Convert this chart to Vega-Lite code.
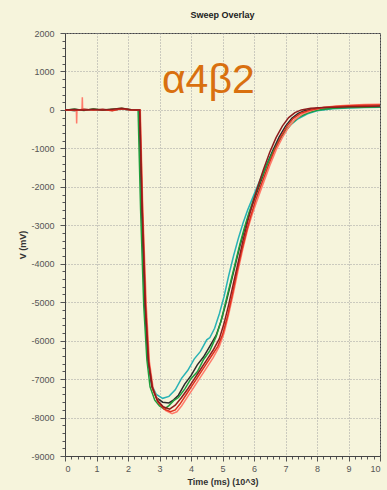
{
  "$schema": "https://vega.github.io/schema/vega-lite/v6.json",
  "autosize": "none",
  "width": 315,
  "height": 423,
  "padding": {"left": 65, "top": 33, "right": 7, "bottom": 34},
  "background": "#f6f4dc",
  "title": {
    "text": "Sweep Overlay",
    "font": "Liberation Sans",
    "fontSize": 9,
    "fontWeight": "bold",
    "color": "#222222",
    "offset": 9
  },
  "config": {
    "view": {"stroke": "#444444", "strokeWidth": 1},
    "axis": {
      "labelFont": "Liberation Sans",
      "labelFontSize": 9,
      "labelColor": "#555555",
      "labelOverlap": false,
      "titleFont": "Liberation Sans",
      "titleFontSize": 9,
      "titleFontWeight": "bold",
      "titleColor": "#333333",
      "domainColor": "#444444",
      "tickColor": "#555555",
      "gridColor": "#a0a0a0",
      "gridDash": [1, 2],
      "gridWidth": 1
    }
  },
  "datasets": {
    "sweeps": [
      {"s": "s1", "t": 0, "v": 10}, {"s": "s1", "t": 0.3, "v": -20}, {"s": "s1", "t": 0.6, "v": 15}, {"s": "s1", "t": 0.9, "v": -10}, {"s": "s1", "t": 1.2, "v": 20}, {"s": "s1", "t": 1.5, "v": -15}, {"s": "s1", "t": 1.8, "v": 30}, {"s": "s1", "t": 2.1, "v": -5}, {"s": "s1", "t": 2.35, "v": 0},
      {"s": "s1", "t": 2.43, "v": -2600}, {"s": "s1", "t": 2.53, "v": -5100}, {"s": "s1", "t": 2.63, "v": -6500}, {"s": "s1", "t": 2.75, "v": -7150}, {"s": "s1", "t": 2.9, "v": -7400}, {"s": "s1", "t": 3.1, "v": -7500}, {"s": "s1", "t": 3.3, "v": -7450}, {"s": "s1", "t": 3.5, "v": -7280}, {"s": "s1", "t": 3.7, "v": -6980}, {"s": "s1", "t": 3.9, "v": -6770}, {"s": "s1", "t": 4.1, "v": -6480}, {"s": "s1", "t": 4.3, "v": -6280}, {"s": "s1", "t": 4.5, "v": -5980}, {"s": "s1", "t": 4.6, "v": -5920}, {"s": "s1", "t": 4.75, "v": -5680}, {"s": "s1", "t": 4.9, "v": -5300}, {"s": "s1", "t": 5.05, "v": -4850}, {"s": "s1", "t": 5.2, "v": -4300}, {"s": "s1", "t": 5.35, "v": -3800}, {"s": "s1", "t": 5.5, "v": -3350}, {"s": "s1", "t": 5.65, "v": -2950}, {"s": "s1", "t": 5.8, "v": -2600}, {"s": "s1", "t": 5.95, "v": -2300}, {"s": "s1", "t": 6.15, "v": -1900}, {"s": "s1", "t": 6.35, "v": -1500}, {"s": "s1", "t": 6.55, "v": -1150}, {"s": "s1", "t": 6.75, "v": -850}, {"s": "s1", "t": 6.95, "v": -600}, {"s": "s1", "t": 7.15, "v": -400}, {"s": "s1", "t": 7.4, "v": -230}, {"s": "s1", "t": 7.7, "v": -100}, {"s": "s1", "t": 8.0, "v": -20}, {"s": "s1", "t": 8.5, "v": 30}, {"s": "s1", "t": 9.0, "v": 50}, {"s": "s1", "t": 9.5, "v": 60}, {"s": "s1", "t": 10, "v": 70},

      {"s": "s2", "t": 0, "v": -10}, {"s": "s2", "t": 0.3, "v": 15}, {"s": "s2", "t": 0.6, "v": -10}, {"s": "s2", "t": 0.9, "v": 20}, {"s": "s2", "t": 1.2, "v": -10}, {"s": "s2", "t": 1.5, "v": 10}, {"s": "s2", "t": 1.8, "v": 25}, {"s": "s2", "t": 2.1, "v": 0}, {"s": "s2", "t": 2.36, "v": 0},
      {"s": "s2", "t": 2.44, "v": -2600}, {"s": "s2", "t": 2.54, "v": -5100}, {"s": "s2", "t": 2.64, "v": -6500}, {"s": "s2", "t": 2.76, "v": -7200}, {"s": "s2", "t": 2.9, "v": -7480}, {"s": "s2", "t": 3.1, "v": -7600}, {"s": "s2", "t": 3.3, "v": -7620}, {"s": "s2", "t": 3.45, "v": -7540}, {"s": "s2", "t": 3.6, "v": -7420}, {"s": "s2", "t": 3.8, "v": -7130}, {"s": "s2", "t": 4.0, "v": -6910}, {"s": "s2", "t": 4.2, "v": -6630}, {"s": "s2", "t": 4.4, "v": -6420}, {"s": "s2", "t": 4.6, "v": -6140}, {"s": "s2", "t": 4.8, "v": -5860}, {"s": "s2", "t": 4.95, "v": -5500}, {"s": "s2", "t": 5.1, "v": -5050}, {"s": "s2", "t": 5.25, "v": -4550}, {"s": "s2", "t": 5.4, "v": -4050}, {"s": "s2", "t": 5.55, "v": -3550}, {"s": "s2", "t": 5.7, "v": -3100}, {"s": "s2", "t": 5.85, "v": -2700}, {"s": "s2", "t": 6.0, "v": -2350}, {"s": "s2", "t": 6.2, "v": -1900}, {"s": "s2", "t": 6.4, "v": -1450}, {"s": "s2", "t": 6.6, "v": -1050}, {"s": "s2", "t": 6.8, "v": -700}, {"s": "s2", "t": 7.0, "v": -420}, {"s": "s2", "t": 7.2, "v": -220}, {"s": "s2", "t": 7.4, "v": -90}, {"s": "s2", "t": 7.6, "v": -20}, {"s": "s2", "t": 8.0, "v": 40}, {"s": "s2", "t": 8.5, "v": 60}, {"s": "s2", "t": 9.0, "v": 70}, {"s": "s2", "t": 9.5, "v": 80}, {"s": "s2", "t": 10, "v": 90},

      {"s": "s3", "t": 0, "v": 0}, {"s": "s3", "t": 0.3, "v": 20}, {"s": "s3", "t": 0.6, "v": -15}, {"s": "s3", "t": 0.9, "v": 25}, {"s": "s3", "t": 1.2, "v": -5}, {"s": "s3", "t": 1.5, "v": 15}, {"s": "s3", "t": 1.8, "v": 40}, {"s": "s3", "t": 2.1, "v": 5}, {"s": "s3", "t": 2.32, "v": 0},
      {"s": "s3", "t": 2.4, "v": -2600}, {"s": "s3", "t": 2.5, "v": -5100}, {"s": "s3", "t": 2.6, "v": -6500}, {"s": "s3", "t": 2.7, "v": -7200}, {"s": "s3", "t": 2.85, "v": -7550}, {"s": "s3", "t": 3.0, "v": -7700}, {"s": "s3", "t": 3.15, "v": -7780}, {"s": "s3", "t": 3.3, "v": -7690}, {"s": "s3", "t": 3.45, "v": -7560}, {"s": "s3", "t": 3.6, "v": -7480}, {"s": "s3", "t": 3.8, "v": -7260}, {"s": "s3", "t": 4.0, "v": -6990}, {"s": "s3", "t": 4.2, "v": -6810}, {"s": "s3", "t": 4.4, "v": -6490}, {"s": "s3", "t": 4.6, "v": -6260}, {"s": "s3", "t": 4.8, "v": -5890}, {"s": "s3", "t": 4.95, "v": -5500}, {"s": "s3", "t": 5.1, "v": -5000}, {"s": "s3", "t": 5.25, "v": -4500}, {"s": "s3", "t": 5.4, "v": -4000}, {"s": "s3", "t": 5.55, "v": -3500}, {"s": "s3", "t": 5.7, "v": -3050}, {"s": "s3", "t": 5.85, "v": -2650}, {"s": "s3", "t": 6.0, "v": -2300}, {"s": "s3", "t": 6.2, "v": -1850}, {"s": "s3", "t": 6.4, "v": -1450}, {"s": "s3", "t": 6.6, "v": -1100}, {"s": "s3", "t": 6.8, "v": -800}, {"s": "s3", "t": 7.0, "v": -550}, {"s": "s3", "t": 7.2, "v": -350}, {"s": "s3", "t": 7.4, "v": -200}, {"s": "s3", "t": 7.7, "v": -80}, {"s": "s3", "t": 8.0, "v": -10}, {"s": "s3", "t": 8.5, "v": 40}, {"s": "s3", "t": 9.0, "v": 60}, {"s": "s3", "t": 9.5, "v": 70}, {"s": "s3", "t": 10, "v": 80},

      {"s": "s4", "t": 0, "v": 0}, {"s": "s4", "t": 0.36, "v": 0}, {"s": "s4", "t": 0.37, "v": -350}, {"s": "s4", "t": 0.38, "v": 0}, {"s": "s4", "t": 0.54, "v": 10}, {"s": "s4", "t": 0.55, "v": 330}, {"s": "s4", "t": 0.56, "v": 10}, {"s": "s4", "t": 0.9, "v": -5}, {"s": "s4", "t": 1.2, "v": 15}, {"s": "s4", "t": 1.5, "v": -10}, {"s": "s4", "t": 1.8, "v": 35}, {"s": "s4", "t": 2.1, "v": 0}, {"s": "s4", "t": 2.39, "v": 0},
      {"s": "s4", "t": 2.47, "v": -2600}, {"s": "s4", "t": 2.58, "v": -5100}, {"s": "s4", "t": 2.68, "v": -6550}, {"s": "s4", "t": 2.8, "v": -7250}, {"s": "s4", "t": 2.98, "v": -7620}, {"s": "s4", "t": 3.2, "v": -7820}, {"s": "s4", "t": 3.4, "v": -7900}, {"s": "s4", "t": 3.55, "v": -7850}, {"s": "s4", "t": 3.7, "v": -7700}, {"s": "s4", "t": 3.9, "v": -7450}, {"s": "s4", "t": 4.1, "v": -7200}, {"s": "s4", "t": 4.3, "v": -6950}, {"s": "s4", "t": 4.5, "v": -6700}, {"s": "s4", "t": 4.7, "v": -6450}, {"s": "s4", "t": 4.9, "v": -6150}, {"s": "s4", "t": 5.05, "v": -5800}, {"s": "s4", "t": 5.2, "v": -5300}, {"s": "s4", "t": 5.35, "v": -4750}, {"s": "s4", "t": 5.5, "v": -4150}, {"s": "s4", "t": 5.65, "v": -3600}, {"s": "s4", "t": 5.8, "v": -3100}, {"s": "s4", "t": 5.95, "v": -2700}, {"s": "s4", "t": 6.1, "v": -2350}, {"s": "s4", "t": 6.3, "v": -1900}, {"s": "s4", "t": 6.5, "v": -1450}, {"s": "s4", "t": 6.7, "v": -1050}, {"s": "s4", "t": 6.9, "v": -720}, {"s": "s4", "t": 7.1, "v": -450}, {"s": "s4", "t": 7.3, "v": -250}, {"s": "s4", "t": 7.55, "v": -100}, {"s": "s4", "t": 7.85, "v": -10}, {"s": "s4", "t": 8.2, "v": 60}, {"s": "s4", "t": 8.6, "v": 100}, {"s": "s4", "t": 9.0, "v": 120}, {"s": "s4", "t": 9.5, "v": 140}, {"s": "s4", "t": 10, "v": 150},

      {"s": "s5", "t": 0, "v": 5}, {"s": "s5", "t": 0.3, "v": -15}, {"s": "s5", "t": 0.6, "v": 20}, {"s": "s5", "t": 0.9, "v": -5}, {"s": "s5", "t": 1.2, "v": 10}, {"s": "s5", "t": 1.5, "v": -20}, {"s": "s5", "t": 1.8, "v": 30}, {"s": "s5", "t": 2.1, "v": 0}, {"s": "s5", "t": 2.38, "v": 0},
      {"s": "s5", "t": 2.46, "v": -2600}, {"s": "s5", "t": 2.56, "v": -5100}, {"s": "s5", "t": 2.66, "v": -6550}, {"s": "s5", "t": 2.78, "v": -7250}, {"s": "s5", "t": 2.95, "v": -7600}, {"s": "s5", "t": 3.15, "v": -7780}, {"s": "s5", "t": 3.35, "v": -7850}, {"s": "s5", "t": 3.5, "v": -7800}, {"s": "s5", "t": 3.65, "v": -7650}, {"s": "s5", "t": 3.85, "v": -7400}, {"s": "s5", "t": 4.05, "v": -7150}, {"s": "s5", "t": 4.25, "v": -6900}, {"s": "s5", "t": 4.45, "v": -6650}, {"s": "s5", "t": 4.65, "v": -6400}, {"s": "s5", "t": 4.85, "v": -6150}, {"s": "s5", "t": 5.0, "v": -5850}, {"s": "s5", "t": 5.15, "v": -5400}, {"s": "s5", "t": 5.3, "v": -4850}, {"s": "s5", "t": 5.45, "v": -4250}, {"s": "s5", "t": 5.6, "v": -3700}, {"s": "s5", "t": 5.75, "v": -3200}, {"s": "s5", "t": 5.9, "v": -2750}, {"s": "s5", "t": 6.05, "v": -2350}, {"s": "s5", "t": 6.25, "v": -1900}, {"s": "s5", "t": 6.45, "v": -1450}, {"s": "s5", "t": 6.65, "v": -1050}, {"s": "s5", "t": 6.85, "v": -700}, {"s": "s5", "t": 7.05, "v": -420}, {"s": "s5", "t": 7.25, "v": -220}, {"s": "s5", "t": 7.5, "v": -80}, {"s": "s5", "t": 7.8, "v": 0}, {"s": "s5", "t": 8.2, "v": 60}, {"s": "s5", "t": 8.6, "v": 90}, {"s": "s5", "t": 9.0, "v": 110}, {"s": "s5", "t": 9.5, "v": 120}, {"s": "s5", "t": 10, "v": 130},

      {"s": "s6", "t": 0, "v": 0}, {"s": "s6", "t": 0.3, "v": 10}, {"s": "s6", "t": 0.6, "v": -10}, {"s": "s6", "t": 0.9, "v": 15}, {"s": "s6", "t": 1.2, "v": 0}, {"s": "s6", "t": 1.5, "v": 20}, {"s": "s6", "t": 1.8, "v": 45}, {"s": "s6", "t": 2.1, "v": 5}, {"s": "s6", "t": 2.37, "v": 0},
      {"s": "s6", "t": 2.45, "v": -2600}, {"s": "s6", "t": 2.55, "v": -5100}, {"s": "s6", "t": 2.65, "v": -6550}, {"s": "s6", "t": 2.77, "v": -7200}, {"s": "s6", "t": 2.93, "v": -7550}, {"s": "s6", "t": 3.12, "v": -7720}, {"s": "s6", "t": 3.32, "v": -7780}, {"s": "s6", "t": 3.5, "v": -7680}, {"s": "s6", "t": 3.7, "v": -7480}, {"s": "s6", "t": 3.9, "v": -7250}, {"s": "s6", "t": 4.1, "v": -7000}, {"s": "s6", "t": 4.3, "v": -6750}, {"s": "s6", "t": 4.5, "v": -6500}, {"s": "s6", "t": 4.7, "v": -6250}, {"s": "s6", "t": 4.9, "v": -5950}, {"s": "s6", "t": 5.05, "v": -5550}, {"s": "s6", "t": 5.2, "v": -5050}, {"s": "s6", "t": 5.35, "v": -4500}, {"s": "s6", "t": 5.5, "v": -3950}, {"s": "s6", "t": 5.65, "v": -3400}, {"s": "s6", "t": 5.8, "v": -2900}, {"s": "s6", "t": 5.95, "v": -2450}, {"s": "s6", "t": 6.1, "v": -2050}, {"s": "s6", "t": 6.3, "v": -1550}, {"s": "s6", "t": 6.5, "v": -1100}, {"s": "s6", "t": 6.7, "v": -720}, {"s": "s6", "t": 6.9, "v": -420}, {"s": "s6", "t": 7.1, "v": -200}, {"s": "s6", "t": 7.3, "v": -70}, {"s": "s6", "t": 7.5, "v": 0}, {"s": "s6", "t": 7.8, "v": 40}, {"s": "s6", "t": 8.2, "v": 60}, {"s": "s6", "t": 8.6, "v": 70}, {"s": "s6", "t": 9.0, "v": 80}, {"s": "s6", "t": 9.5, "v": 90}, {"s": "s6", "t": 10, "v": 100}
    ],
    "annotation": [{"label": "α4β2", "t": 4.55, "v": 440}]
  },
  "layer": [
    {
      "mark": {
        "type": "rect",
        "fill": {
          "gradient": "linear",
          "x1": 0, "y1": 0, "x2": 0, "y2": 1,
          "stops": [
            {"offset": 0, "color": "#ffffff"},
            {"offset": 1, "color": "#e1e2e7"}
          ]
        }
      },
      "encoding": {
        "x": {
          "datum": 0,
          "type": "quantitative",
          "scale": {"domain": [0, 10], "nice": false, "zero": false},
          "axis": {
            "title": "Time (ms) (10^3)",
            "tickCount": 200,
            "values": [0, 0.2, 0.4, 0.6, 0.8, 1, 1.2, 1.4, 1.6, 1.8, 2, 2.2, 2.4, 2.6, 2.8, 3, 3.2, 3.4, 3.6, 3.8, 4, 4.2, 4.4, 4.6, 4.8, 5, 5.2, 5.4, 5.6, 5.8, 6, 6.2, 6.4, 6.6, 6.8, 7, 7.2, 7.4, 7.6, 7.8, 8, 8.2, 8.4, 8.6, 8.8, 9, 9.2, 9.4, 9.6, 9.8, 10],
            "labelExpr": "datum.value % 1 == 0 ? toString(datum.value) : ''",
            "tickSize": {"condition": {"test": "datum.value % 1 == 0", "value": 5}, "value": 3},
            "gridOpacity": {"condition": {"test": "datum.value % 1 == 0", "value": 1}, "value": 0},
            "grid": true,
            "labelPadding": 3,
            "titlePadding": 4
          }
        },
        "x2": {"datum": 10},
        "y": {
          "datum": 2000,
          "type": "quantitative",
          "scale": {"domain": [-9000, 2000], "nice": false, "zero": false},
          "axis": {
            "title": "V (mV)",
            "tickCount": 200,
            "values": [-9000, -8800, -8600, -8400, -8200, -8000, -7800, -7600, -7400, -7200, -7000, -6800, -6600, -6400, -6200, -6000, -5800, -5600, -5400, -5200, -5000, -4800, -4600, -4400, -4200, -4000, -3800, -3600, -3400, -3200, -3000, -2800, -2600, -2400, -2200, -2000, -1800, -1600, -1400, -1200, -1000, -800, -600, -400, -200, 0, 200, 400, 600, 800, 1000, 1200, 1400, 1600, 1800, 2000],
            "labelExpr": "datum.value % 1000 == 0 ? toString(datum.value) : ''",
            "tickSize": {"condition": {"test": "datum.value % 1000 == 0", "value": 5}, "value": 3},
            "gridOpacity": {"condition": {"test": "datum.value % 1000 == 0", "value": 1}, "value": 0},
            "grid": true,
            "labelPadding": 6,
            "titlePadding": 3
          }
        },
        "y2": {"datum": -9000}
      }
    },
    {
      "data": {"name": "sweeps"},
      "mark": {"type": "line", "strokeWidth": 1.5, "clip": true},
      "encoding": {
        "x": {"field": "t", "type": "quantitative"},
        "y": {"field": "v", "type": "quantitative"},
        "color": {
          "field": "s",
          "type": "nominal",
          "legend": null,
          "scale": {
            "domain": ["s1", "s2", "s3", "s4", "s5", "s6"],
            "range": ["#29b3b5", "#2b2b2b", "#1f9e3c", "#ff7b6b", "#e0301e", "#8e1c1c"]
          }
        },
        "order": {"field": "t", "type": "quantitative"}
      }
    },
    {
      "data": {"name": "annotation"},
      "mark": {
        "type": "text",
        "font": "Liberation Sans",
        "fontSize": 41,
        "color": "#d9700f",
        "align": "center",
        "baseline": "alphabetic"
      },
      "encoding": {
        "x": {"field": "t", "type": "quantitative"},
        "y": {"field": "v", "type": "quantitative"},
        "text": {"field": "label"}
      }
    }
  ]
}
